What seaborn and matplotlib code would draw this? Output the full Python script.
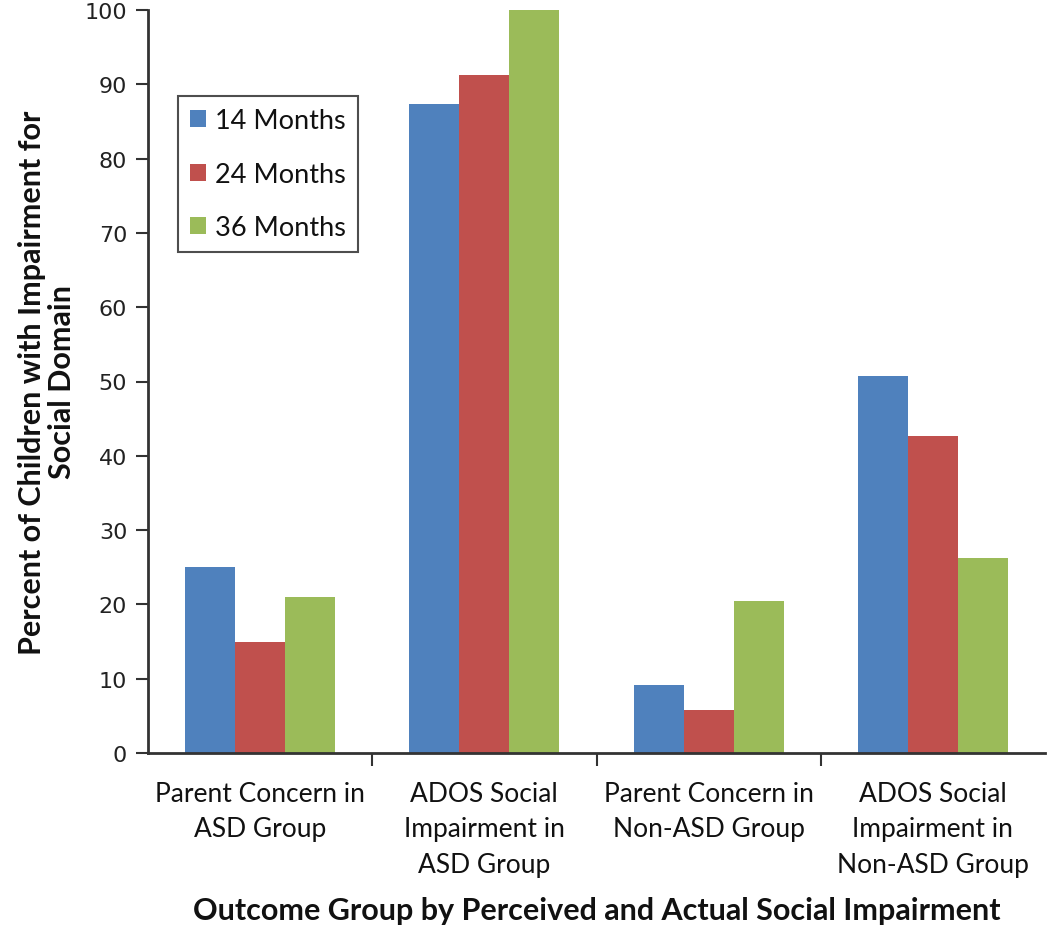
import matplotlib
matplotlib.use("Agg")
import matplotlib.pyplot as plt
import seaborn as sns
import pandas as pd
from matplotlib.ticker import FixedLocator

categories = [
    "Parent Concern in\nASD Group",
    "ADOS Social\nImpairment in\nASD Group",
    "Parent Concern in\nNon-ASD Group",
    "ADOS Social\nImpairment in\nNon-ASD Group",
]
series_names = ["14 Months", "24 Months", "36 Months"]
months14 = [25.0, 87.4, 9.1, 50.7]
months24 = [15.0, 91.3, 5.8, 42.7]
months36 = [21.0, 100.0, 20.5, 26.2]
colors = ["#4F81BD", "#C0504D", "#9BBB59"]
yticks = [0, 10, 20, 30, 40, 50, 60, 70, 80, 90, 100]

rows = []
for name, vals in zip(series_names, [months14, months24, months36]):
    for c, v in zip(categories, vals):
        rows.append({"Category": c, "Series": name, "Value": v})
df = pd.DataFrame(rows)

sns.set_style("white")
plt.rcParams["font.family"] = ["Lato", "DejaVu Sans"]

fig = plt.figure(figsize=(10.5, 9.29), dpi=100)
ax = fig.add_axes([148 / 1050, 1 - 754 / 929, (1045 - 148) / 1050, (754 - 11) / 929])

sns.barplot(data=df, x="Category", y="Value", hue="Series", hue_order=series_names,
            order=categories, palette=colors, width=0.67, gap=0, saturation=1,
            edgecolor="none", linewidth=0, ax=ax)

ax.set_xlim(-0.5, len(categories) - 0.5)
ax.set_ylim(0, 100)
ax.set_yticks(yticks)
ax.set_yticklabels([str(t) for t in yticks], fontfamily="DejaVu Sans", fontsize=16, color="#222222")
ax.tick_params(axis="y", direction="out", length=9, width=1.5, color="#333333", pad=6, left=True)

ax.set_xticks(range(len(categories)))
ax.set_xticklabels(categories, fontsize=19, color="#111111", linespacing=1.52)
ax.tick_params(axis="x", which="major", length=0, pad=20)
ax.xaxis.set_minor_locator(FixedLocator([0.5, 1.5, 2.5]))
ax.tick_params(axis="x", which="minor", direction="out", length=9, width=1.5, color="#333333", bottom=True)

for side in ["top", "right"]:
    ax.spines[side].set_visible(False)
for side in ["left", "bottom"]:
    ax.spines[side].set_visible(True)
    ax.spines[side].set_color("#333333")
    ax.spines[side].set_linewidth(2)

ax.set_ylabel("Percent of Children with Impairment for\nSocial Domain", fontsize=22,
              fontweight="bold", color="#111111", labelpad=6, linespacing=1.1)
ax.set_xlabel("Outcome Group by Perceived and Actual Social Impairment", fontsize=22,
              fontweight="bold", color="#111111", labelpad=14)

leg = ax.legend(loc="upper left", bbox_to_anchor=(0.0334, 0.884), borderaxespad=0,
                frameon=True, fancybox=False, fontsize=19.5, title=None,
                handlelength=0.6, handleheight=0.6, handletextpad=0.3,
                labelspacing=1.05, borderpad=0.45)
leg.get_frame().set_edgecolor("#222222")
leg.get_frame().set_linewidth(1.5)
for t in leg.get_texts():
    t.set_color("#111111")

fig.savefig("out.png", dpi=100, facecolor="white")
